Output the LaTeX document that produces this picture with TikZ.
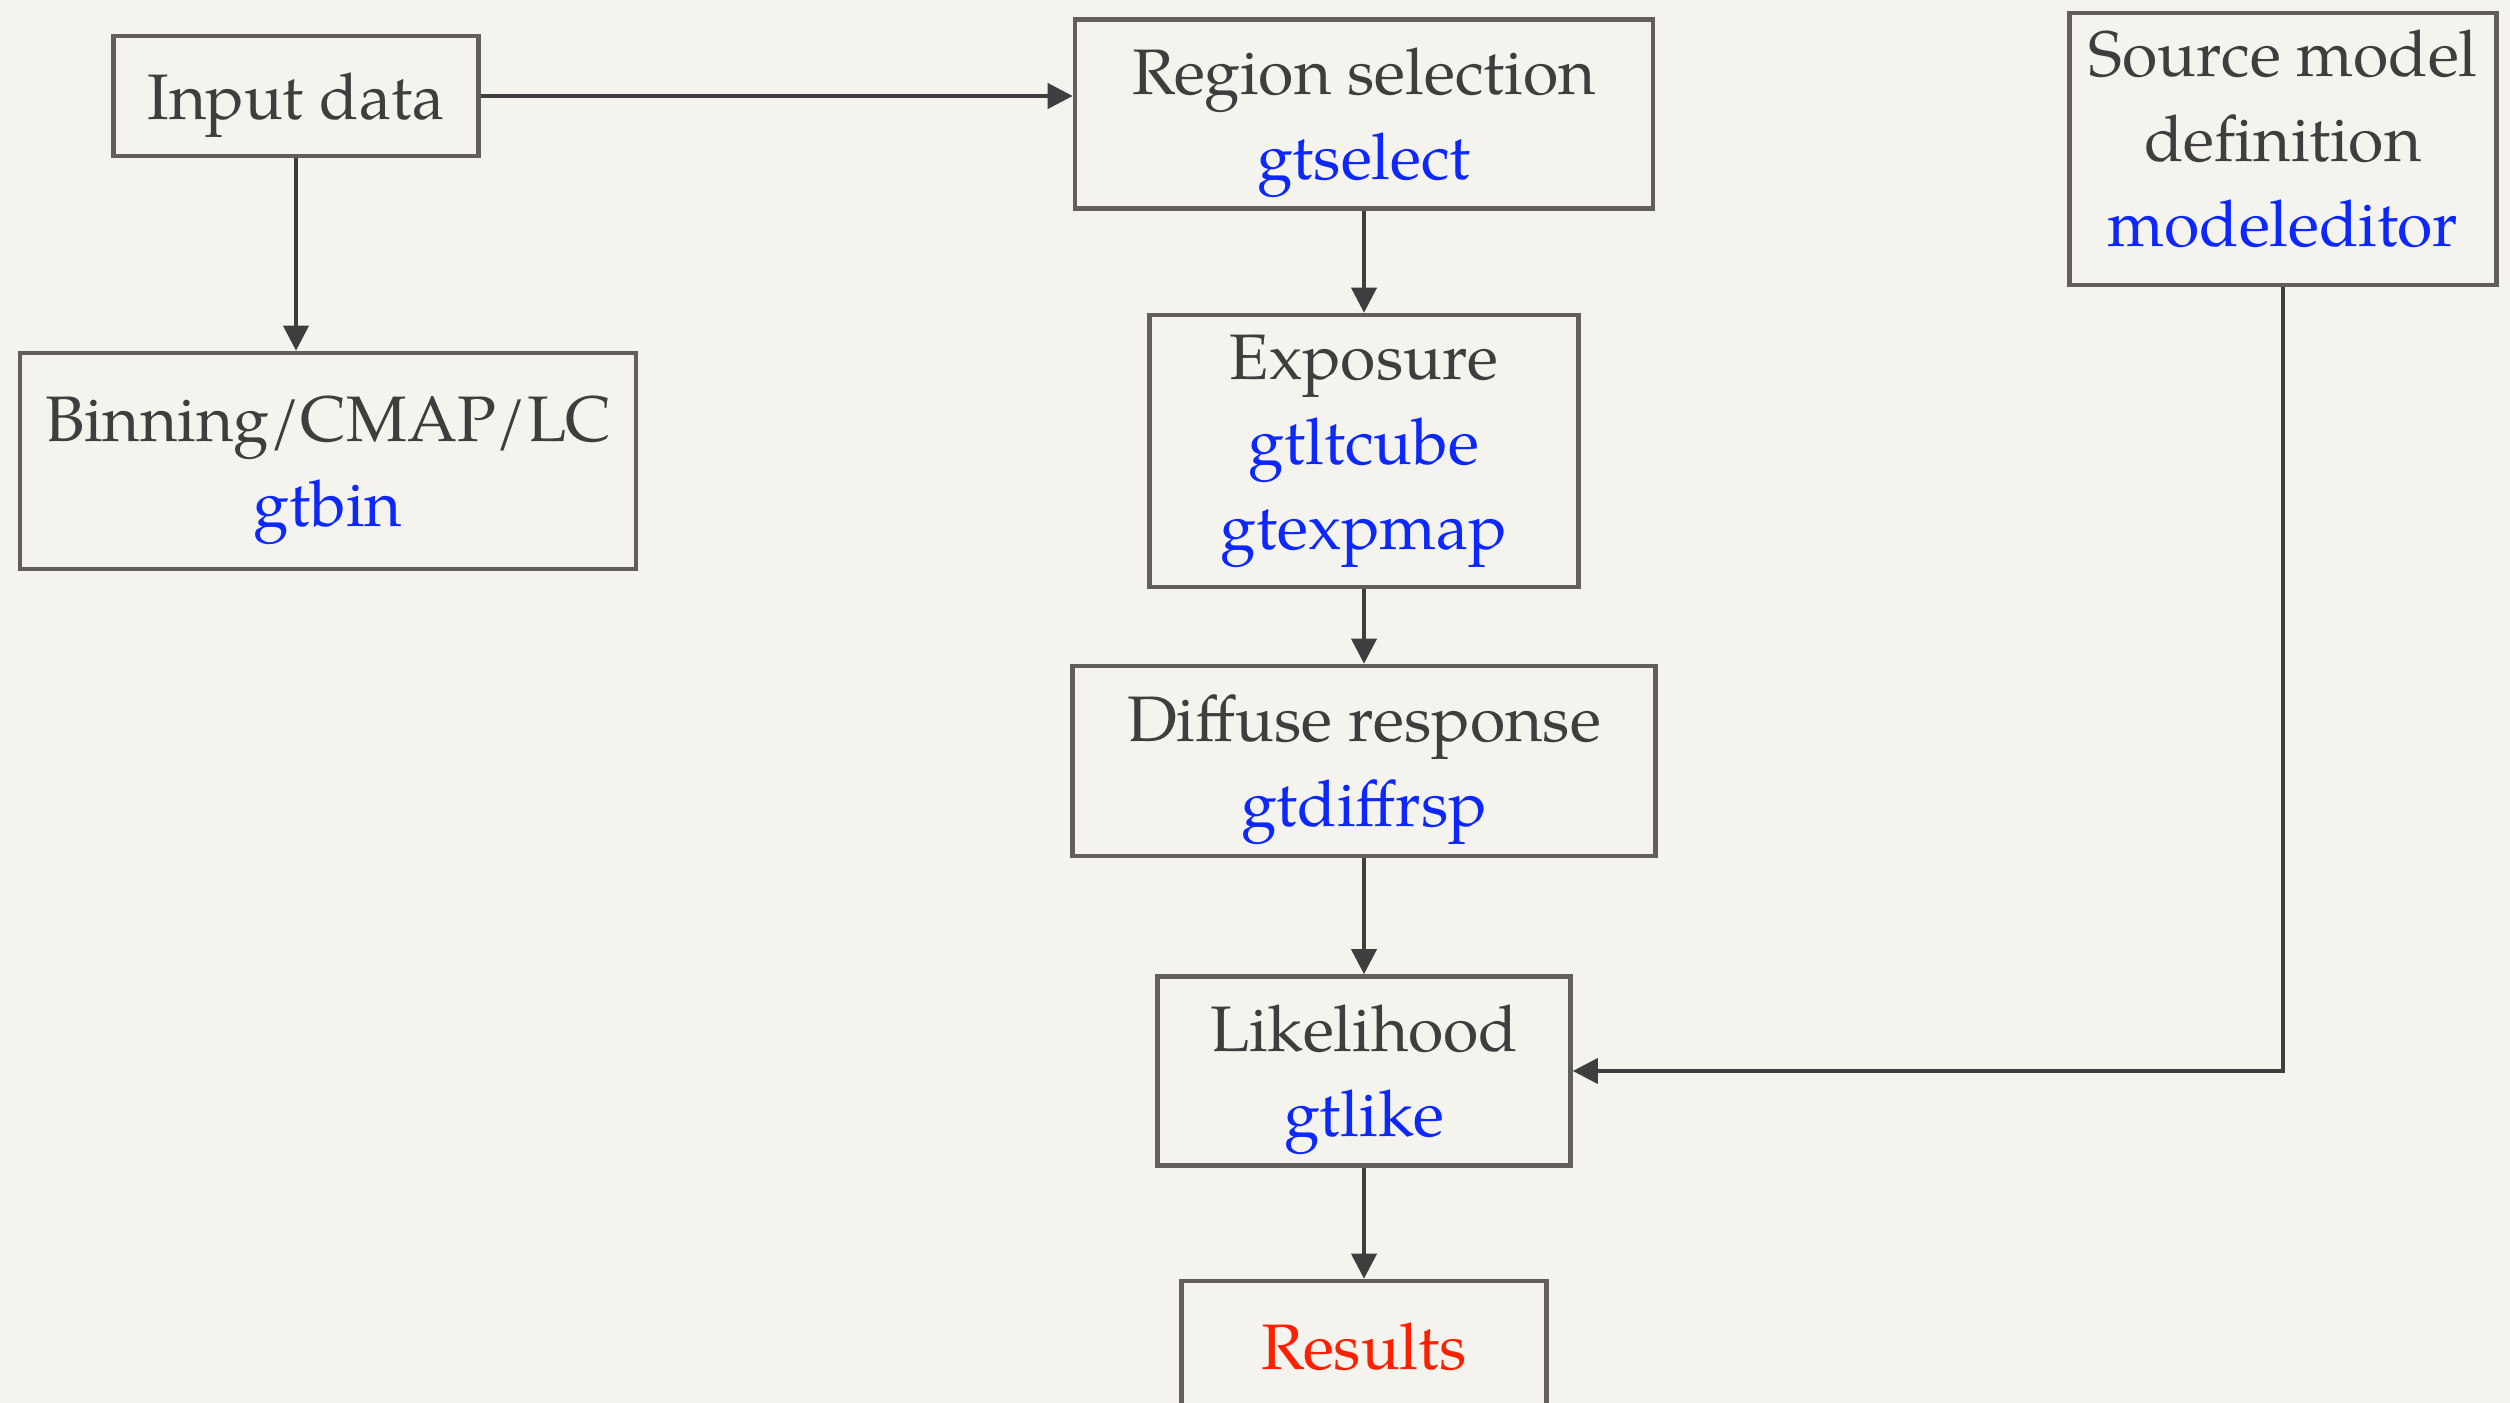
\documentclass[tikz,border=0pt]{standalone}
\usepackage{fontspec}
\setmainfont{TeX Gyre Pagella}
\usetikzlibrary{arrows.meta}
\definecolor{paper}{RGB}{245,243,238}
\definecolor{papermid}{RGB}{229,227,222}
\definecolor{boxline}{RGB}{98,95,91}
\definecolor{ink}{RGB}{62,62,62}
\definecolor{toolblue}{RGB}{12,40,255}
\definecolor{resred}{RGB}{255,32,0}
\tikzstyle{every node}=[font=\fontsize{18.3}{24.2}\selectfont, text=ink, node distance=3.1cm]
\tikzstyle{stepbox}=[draw=boxline, line width=1.3pt, align=center, inner sep=0pt, text depth=0pt]
\tikzstyle{flow}=[->, draw=ink, line width=1.1pt]
\tikzset{>={Triangle[length=2.5mm,width=2.5mm]}}
\newcommand{\tool}[1]{\textcolor{toolblue}{#1}}

\begin{document}
\begin{tikzpicture}[x=0.1mm, y=-0.1mm]
\shade [top color=paper, middle color=papermid, bottom color=paper] (0,0) rectangle (2510,1402);
\useasboundingbox (0,0) rectangle (2510,1402);

\node (input)      [stepbox, minimum width=3.65cm, minimum height=1.2cm] at (296,96) {Input data};
\node (binning)    [stepbox, minimum width=6.16cm, minimum height=2.16cm] at (328,461) {Binning/CMAP/LC\\\tool{gtbin}};
\node (region)     [stepbox, minimum width=5.78cm, minimum height=1.89cm] at (1364,114) {Region selection\\\tool{gtselect}};
\node (exposure)   [stepbox, minimum width=4.29cm, minimum height=2.72cm, text depth=5pt, below of = region, node distance=3.37cm] {Exposure\\\tool{gtltcube}\\\tool{gtexpmap}};
\node (diffuse)    [stepbox, minimum width=5.83cm, minimum height=1.90cm, below of = exposure] {Diffuse response\\\tool{gtdiffrsp}};
\node (likelihood) [stepbox, minimum width=4.13cm, minimum height=1.89cm, below of = diffuse] {Likelihood\\\tool{gtlike}};
\node (results)    [stepbox, minimum width=3.65cm, minimum height=1.30cm, below of = likelihood, node distance=2.75cm] {\textcolor{resred}{Results}};
\node (source)     [stepbox, minimum width=4.27cm, minimum height=2.72cm, text depth=6.4pt] at (2283,149) {Source model\\definition\\\tool{modeleditor}};

\draw [flow] (input.east)   -- (input.east -| region.west);
\draw [flow] (input.south)  -- (input.south |- binning.north);
\draw [flow] (region)       -- (exposure);
\draw [flow] (exposure)     -- (diffuse);
\draw [flow] (diffuse)      -- (likelihood);
\draw [flow] (likelihood)   -- (results);
\draw [flow] (source.south) |- (likelihood.east);

\end{tikzpicture}
\end{document}
